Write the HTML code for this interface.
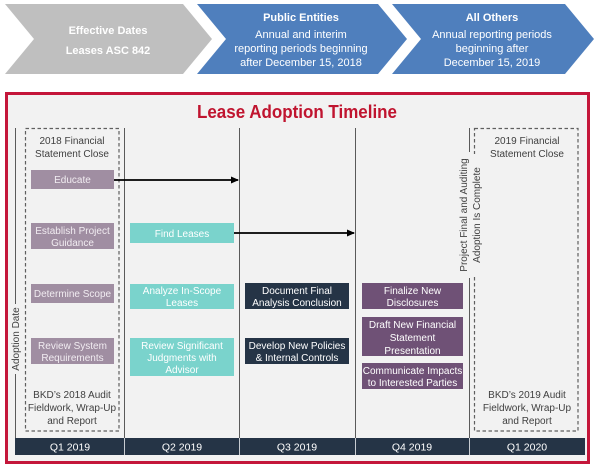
<!DOCTYPE html>
<html><head><meta charset="utf-8"><style>
html,body{margin:0;padding:0;background:#fff;}
svg{display:block;}
text{font-family:"Liberation Sans",Arial,sans-serif;}
</style></head><body>
<svg width="600" height="470" viewBox="0 0 600 470" xmlns="http://www.w3.org/2000/svg">
<defs>
<marker id="ah" markerWidth="8" markerHeight="8" refX="7" refY="4" orient="auto" markerUnits="userSpaceOnUse">
<path d="M0,0.5 L8,4 L0,7.5 Z" fill="#000"/>
</marker>
</defs>
<rect width="600" height="470" fill="#fff"/>
<!-- Chevrons -->
<polygon points="5,4 183,4 212,39 183,74 5,74 34,39" fill="#bfbfbf"/>
<polygon points="197,4 378,4 407,39 378,74 197,74 226,39" fill="#4f7fbd"/>
<polygon points="392,4 565,4 594,39 565,74 392,74 421,39" fill="#4f7fbd"/>
<g fill="#fff" text-anchor="middle" font-size="11">
<text x="108" y="34" font-weight="bold">Effective Dates</text>
<text x="108" y="54" font-weight="bold">Leases  ASC 842</text>
<text x="301" y="21" font-weight="bold">Public Entities</text>
<text x="301" y="38">Annual and interim</text>
<text x="301" y="52">reporting periods beginning</text>
<text x="301" y="66">after December 15, 2018</text>
<text x="492" y="21" font-weight="bold">All Others</text>
<text x="492" y="38">Annual reporting periods</text>
<text x="492" y="52">beginning after</text>
<text x="492" y="66">December 15, 2019</text>
</g>
<!-- Frame -->
<rect x="6.5" y="93.5" width="582" height="369" fill="#f2f2f2" stroke="#c4163a" stroke-width="3"/>
<text x="297" y="118" text-anchor="middle" font-size="18" font-weight="bold" fill="#c0142f" textLength="200" lengthAdjust="spacingAndGlyphs">Lease Adoption Timeline</text>
<!-- Column lines -->
<g stroke="#5a5a5a" stroke-width="1">
<line x1="15.5" y1="128" x2="15.5" y2="304"/>
<line x1="15.5" y1="374" x2="15.5" y2="438"/>
<line x1="124.5" y1="128" x2="124.5" y2="438"/>
<line x1="239.5" y1="128" x2="239.5" y2="438"/>
<line x1="355.5" y1="128" x2="355.5" y2="438"/>
<line x1="469.5" y1="128" x2="469.5" y2="152"/>
<line x1="469.5" y1="278" x2="469.5" y2="438"/>
</g>
<!-- Dashed boxes -->
<g fill="none" stroke="#5f5f5f" stroke-width="1.2" stroke-dasharray="3.5,2.5">
<rect x="25.5" y="128.5" width="93.5" height="302.5"/>
<rect x="474.5" y="128.5" width="103.5" height="302.5"/>
</g>
<!-- mask behind rotated label -->
<rect x="458" y="154" width="25" height="122" fill="#f2f2f2"/>
<!-- Rotated labels -->
<g fill="#404040" font-size="10" text-anchor="middle">
<text transform="translate(19,339) rotate(-90)">Adoption Date</text>
<text transform="translate(467,215) rotate(-90)">Project Final and Auditing</text>
<text transform="translate(480,215) rotate(-90)">Adoption Is Complete</text>
</g>
<!-- Dashed box texts -->
<g fill="#404040" font-size="10" text-anchor="middle">
<text x="72" y="144">2018 Financial</text>
<text x="72" y="157">Statement Close</text>
<text x="72" y="398">BKD’s 2018 Audit</text>
<text x="72" y="411">Fieldwork, Wrap-Up</text>
<text x="72" y="424">and Report</text>
<text x="527" y="144">2019 Financial</text>
<text x="527" y="157">Statement Close</text>
<text x="527" y="398">BKD’s 2019 Audit</text>
<text x="527" y="411">Fieldwork, Wrap-Up</text>
<text x="527" y="424">and Report</text>
</g>
<!-- Q1 boxes -->
<g fill="#a08ea2">
<rect x="31" y="170" width="83" height="19"/>
<rect x="31" y="223" width="83" height="26"/>
<rect x="31" y="284" width="83" height="19"/>
<rect x="31" y="338" width="83" height="26"/>
</g>
<g fill="#f1ecf1" font-size="10" text-anchor="middle">
<text x="72.5" y="183">Educate</text>
<text x="72.5" y="234">Establish Project</text>
<text x="72.5" y="246">Guidance</text>
<text x="72.5" y="297">Determine Scope</text>
<text x="72.5" y="349">Review System</text>
<text x="72.5" y="361">Requirements</text>
</g>
<!-- Q2 boxes -->
<g fill="#7ad3cc">
<rect x="130" y="223" width="104" height="20"/>
<rect x="130" y="284" width="104" height="25"/>
<rect x="130" y="338" width="104" height="38"/>
</g>
<g fill="#ffffff" font-size="10" text-anchor="middle">
<text x="182" y="237">Find Leases</text>
<text x="182" y="294">Analyze In-Scope</text>
<text x="182" y="306">Leases</text>
<text x="182" y="349">Review Significant</text>
<text x="182" y="361">Judgments with</text>
<text x="182" y="373">Advisor</text>
</g>
<!-- Q3 boxes -->
<g fill="#253446">
<rect x="245" y="283" width="104" height="26"/>
<rect x="245" y="338" width="104" height="26"/>
</g>
<g fill="#ffffff" font-size="10" text-anchor="middle">
<text x="297" y="294">Document Final</text>
<text x="297" y="306">Analysis Conclusion</text>
<text x="297" y="349">Develop New Policies</text>
<text x="297" y="361">&amp; Internal Controls</text>
</g>
<!-- Q4 boxes -->
<g fill="#6f5176">
<rect x="362" y="283" width="101" height="26"/>
<rect x="362" y="317" width="101" height="39"/>
<rect x="362" y="363" width="101" height="26"/>
</g>
<g fill="#ffffff" font-size="10" text-anchor="middle">
<text x="412.5" y="294">Finalize New</text>
<text x="412.5" y="306">Disclosures</text>
<text x="412.5" y="328">Draft New Financial</text>
<text x="412.5" y="341">Statement</text>
<text x="412.5" y="354">Presentation</text>
<text x="412.5" y="374">Communicate Impacts</text>
<text x="412.5" y="386">to Interested Parties</text>
</g>
<!-- Arrows -->
<g stroke="#000" stroke-width="1.8">
<line x1="114" y1="180" x2="238" y2="180" marker-end="url(#ah)"/>
<line x1="234" y1="233" x2="354" y2="233" marker-end="url(#ah)"/>
</g>
<!-- Quarter bar -->
<rect x="15" y="438" width="570" height="17" fill="#253446"/>
<g stroke="#c8ccd2" stroke-width="1">
<line x1="124.5" y1="438" x2="124.5" y2="455"/>
<line x1="239.5" y1="438" x2="239.5" y2="455"/>
<line x1="355.5" y1="438" x2="355.5" y2="455"/>
<line x1="469.5" y1="438" x2="469.5" y2="455"/>
</g>
<g fill="#ffffff" font-size="10.5" text-anchor="middle">
<text x="70" y="450.5">Q1 2019</text>
<text x="182" y="450.5">Q2 2019</text>
<text x="297" y="450.5">Q3 2019</text>
<text x="412" y="450.5">Q4 2019</text>
<text x="527" y="450.5">Q1 2020</text>
</g>
</svg>
</body></html>
